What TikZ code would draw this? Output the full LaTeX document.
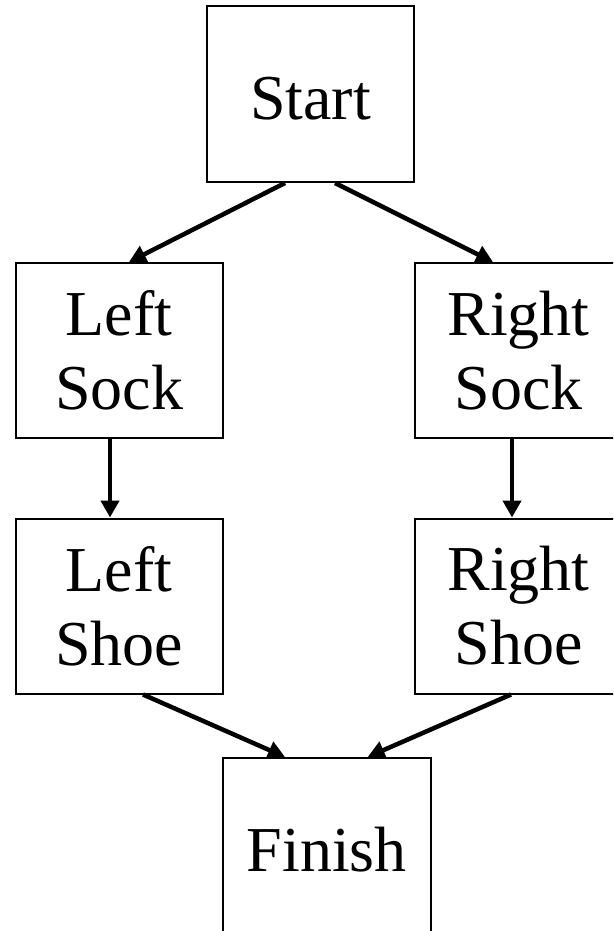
\documentclass[tikz,border=0pt]{standalone}
\usepackage{fontspec}
\setmainfont{Liberation Serif}
\usetikzlibrary{arrows.meta}
\begin{document}
\begin{tikzpicture}[x=1pt,y=-1pt,
  box/.style={draw, line width=2pt, minimum width=207pt, minimum height=175pt, align=center, font=\fontsize{64}{74}\selectfont, inner sep=0pt},
  onebox/.style={box, minimum height=176pt, text height=51pt, text depth=0pt},
  conn/.style={line width=4.5pt, -{Triangle[length=17pt,width=18pt]}}]
\useasboundingbox (0,0) rectangle (613,931);
\clip (0,0) rectangle (613,931);
\node[onebox] (start) at (310.5,94) {Start};
\node[box] (lsock) at (119,350.5) {Left\\Sock};
\node[box] (rsock) at (518.5,350.5) {Right\\Sock};
\node[box] (lshoe) at (119,606) {Left\\Shoe};
\node[box] (rshoe) at (518.5,606) {Right\\Shoe};
\node[onebox, minimum width=208pt] (finish) at (326.7,846) {Finish};
\draw[conn] ([xshift=-25.5pt]start.south) -- ([xshift=10pt]lsock.north);
\draw[conn] ([xshift=24.5pt]start.south) -- ([xshift=-25.5pt]rsock.north);
\draw[conn] ([xshift=-9pt]lsock.south) -- ([xshift=-9pt]lshoe.north);
\draw[conn] ([xshift=-6.5pt]rsock.south) -- ([xshift=-6.5pt]rshoe.north);
\draw[conn] ([xshift=24pt]lshoe.south) -- ([xshift=-41.7pt]finish.north);
\draw[conn] ([xshift=-7.5pt]rshoe.south) -- ([xshift=41pt]finish.north);
\end{tikzpicture}
\end{document}
